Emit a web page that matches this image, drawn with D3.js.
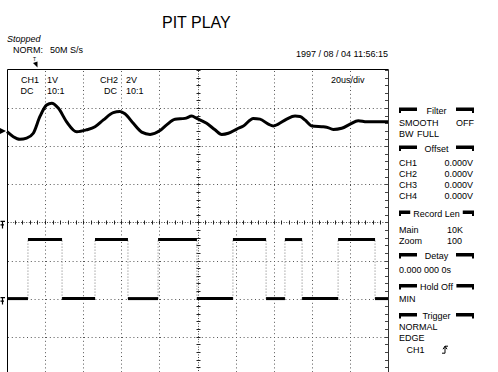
<!DOCTYPE html>
<html><head><meta charset="utf-8">
<script src="https://cdn.jsdelivr.net/npm/d3@7"></script>
<style>
html,body{margin:0;padding:0;background:#fff;}
svg{display:block;font-family:"Liberation Sans",Arial,sans-serif;}
</style></head>
<body><svg id="c" width="498" height="372"></svg>
<script>
// ---- data ----
const title = "PIT PLAY";
const status = "Stopped";
const sampling = ["NORM:", "50M S/s"];
const timestamp = "1997 / 08 / 04  11:56:15";
const timebase = "20us/div";
const chLabels = [["CH1", "1V", "DC", "10:1"], ["CH2", "2V", "DC", "10:1"]];
// CH1 analog trace: time (us) and volts (1 V/div)
const ch1Time = [0,3.3,6.8,10.3,13.8,17.3,20.8,23.5,26.9,31.3,36.6,41.8,46.2,50.6,55.8,59.3,61.9,66.3,70.7,75.1,80.3,83.8,88.2,93.4,97.0,99.6,104.8,109.2,112.7,116.2,120.6,124.1,129.3,132.8,137.2,139.8,142.4,146.8,151.2,153.8,156.4,160.0,165.2,167.8,171.3,175.7,180.1,184.4,188.8,194.1,200];
const ch1Volts = [-0.02,-0.15,-0.22,-0.19,-0.06,0.38,0.68,0.73,0.60,0.24,-0.02,0.03,0.11,0.29,0.48,0.51,0.45,0.20,-0.03,-0.09,0.01,0.16,0.31,0.33,0.39,0.33,0.20,0.03,-0.09,-0.06,0.05,0.13,0.33,0.31,0.18,0.13,0.18,0.31,0.39,0.38,0.29,0.13,0.11,0.10,0.04,0.07,0.18,0.27,0.24,0.24,0.24];
// CH2 digital trace: edge times (us) and levels (volts, 2 V/div)
const ch2Time = [0,11.0,28.9,46.2,63.5,79.3,99.7,118.6,136.0,145.9,154.9,173.8,193.2,200];
const ch2Volts = [0,3.1,0,3.1,0,3.1,0,3.1,0,3.1,0,3.1,0,0];
const ch1Ground = 2.4, ch2Ground = -2.0; // divisions
const ch1VoltsPerDiv = 1, ch2VoltsPerDiv = 2;
const menu = [
  {head:"Filter", rows:[["SMOOTH","OFF"],["BW","FULL"]]},
  {head:"Offset", rows:[["CH1","0.000V"],["CH2","0.000V"],["CH3","0.000V"],["CH4","0.000V"]]},
  {head:"Record Len", rows:[["Main","10K"],["Zoom","100"]]},
  {head:"Detay", rows:[["0.000 000 0s",""]]},
  {head:"Hold Off", rows:[["MIN",""]]},
  {head:"Trigger", rows:[["NORMAL",""],["EDGE",""],["   CH1","slope"]]}
];

// ---- drawing ----
const svg = d3.select("#c");
const x = d3.scaleLinear().domain([0,200]).range([7,388]);
const y = d3.scaleLinear().domain([4,-4]).range([70,374.8]);
const g = svg.append("g");

// grid
const xt = x.ticks(10), yt = y.ticks(8);
g.selectAll(".vg").data(xt.filter(d=>d>0&&d<200&&d!==100)).join("line")
  .attr("x1",d=>Math.round(x(d))+0.5).attr("x2",d=>Math.round(x(d))+0.5)
  .attr("y1",71).attr("y2",372).attr("stroke","#555").attr("stroke-width",1).attr("stroke-dasharray","1,2.8");
g.selectAll(".hg").data(yt.filter(d=>d>-4&&d<4&&d!==0)).join("line")
  .attr("y1",d=>Math.round(y(d))+0.5).attr("y2",d=>Math.round(y(d))+0.5)
  .attr("x1",8).attr("x2",388).attr("stroke","#555").attr("stroke-width",1).attr("stroke-dasharray","1,2.8");
// center lines with minor ticks
const cx = Math.round(x(100))+0.5, cy = Math.round(y(0))+0.5;
g.append("line").attr("x1",cx).attr("x2",cx).attr("y1",71).attr("y2",372).attr("stroke","#444").attr("stroke-dasharray","1,1.6");
g.append("line").attr("y1",cy).attr("y2",cy).attr("x1",8).attr("x2",388).attr("stroke","#444").attr("stroke-dasharray","1,1.6");
const minorX = d3.range(0,201,4), minorY = d3.range(-4,4.01,0.2);
g.selectAll(".mtx").data(minorX).join("line")
  .attr("x1",d=>Math.round(x(d))+0.5).attr("x2",d=>Math.round(x(d))+0.5)
  .attr("y1",cy-2).attr("y2",cy+2).attr("stroke","#222");
g.selectAll(".mty").data(minorY).join("line")
  .attr("y1",d=>Math.round(y(d))+0.5).attr("y2",d=>Math.round(y(d))+0.5)
  .attr("x1",cx-2).attr("x2",cx+2).attr("stroke","#222");
g.selectAll(".rty").data(minorY).join("line")
  .attr("y1",d=>Math.round(y(d))+0.5).attr("y2",d=>Math.round(y(d))+0.5)
  .attr("x1",385).attr("x2",388).attr("stroke","#444");
// frame
g.append("path").attr("d",`M7.5,372V69.5H388.5`).attr("fill","none").attr("stroke","#000").attr("stroke-width",1);
g.append("line").attr("x1",388.5).attr("x2",388.5).attr("y1",69.5).attr("y2",372).attr("stroke","#333").attr("stroke-width",1);

// CH2 trace
const ch2Y = v => y(v/ch2VoltsPerDiv + ch2Ground);
const segs = d3.range(ch2Time.length-1).map(i=>({t0:ch2Time[i],t1:ch2Time[i+1],v:ch2Volts[i]}));
g.selectAll(".e2").data(ch2Time.slice(1,-1)).join("line")
  .attr("x1",d=>x(d)).attr("x2",d=>x(d)).attr("y1",ch2Y(0)).attr("y2",ch2Y(3.1))
  .attr("stroke","#777").attr("stroke-width",1).attr("stroke-dasharray","1,2");
g.selectAll(".h2").data(segs).join("line")
  .attr("x1",d=>x(d.t0)).attr("x2",d=>x(d.t1)).attr("y1",d=>ch2Y(d.v)).attr("y2",d=>ch2Y(d.v))
  .attr("stroke","#000").attr("stroke-width",3);

// CH1 trace
const ch1 = ch1Time.map((t,i)=>[t,ch1Volts[i]]);
g.append("path").datum(ch1)
  .attr("d",d3.line().x(d=>x(d[0])).y(d=>y(d[1]/ch1VoltsPerDiv+ch1Ground)).curve(d3.curveMonotoneX))
  .attr("fill","none").attr("stroke","#000").attr("stroke-width",3).attr("stroke-linejoin","round");

// left markers
const g1 = y(ch1Ground), g2 = y(ch2Ground), tl = y(0);
g.append("path").attr("d",`M0,${g1-3}L6,${g1}L0,${g1+3}Z`).attr("fill","#000");
[tl+1, g2+1].forEach(yy=>{
  g.append("path").attr("d",`M0.5,${yy-2}H5M2.5,${yy-2}V${yy+5}M0.5,${yy+1.5}H4`).attr("fill","none").attr("stroke","#000").attr("stroke-width",1.2);
});

// trigger position marker
g.append("text").attr("x",34.5).attr("y",61).attr("text-anchor","middle").attr("font-size",5).text("T");
g.append("path").attr("d","M33,63L37.5,67.5V61.5Z").attr("fill","#000");

// header texts
svg.append("text").attr("x",162).attr("y",28).attr("font-size",16).text(title);
svg.append("text").attr("x",7).attr("y",41.5).attr("font-size",9).attr("font-style","italic").text(status);
svg.append("text").attr("x",13).attr("y",52.5).attr("font-size",9).text(sampling[0]);
svg.append("text").attr("x",50).attr("y",52.5).attr("font-size",9).text(sampling[1]);
svg.append("text").attr("x",388).attr("y",57).attr("text-anchor","end").attr("font-size",9).text(timestamp);
svg.append("text").attr("x",331).attr("y",83).attr("font-size",9).text(timebase);
const chX = [[21,47,33.5,47],[100,126,117,126]];
chLabels.forEach((c,i)=>{
  svg.append("text").attr("x",chX[i][0]).attr("y",82.5).attr("font-size",9).text(c[0]);
  svg.append("text").attr("x",chX[i][1]).attr("y",82.5).attr("font-size",9).text(c[1]);
  svg.append("text").attr("x",chX[i][2]).attr("y",93.5).attr("font-size",9).attr("text-anchor","end").text(c[2]);
  svg.append("text").attr("x",chX[i][3]).attr("y",93.5).attr("font-size",9).text(c[3]);
});

// right menu (layout)
const headCenters = [110.5, 148.5, 213.5, 256, 287, 316];
const firstGap = [12, 14.5, 16.5, 14, 12, 11];
const P = svg.append("g");
menu.forEach((m,mi)=>{
  const cyM = headCenters[mi];
  const t = P.append("text").attr("x",436.5).attr("y",cyM+3.2).attr("text-anchor","middle").attr("font-size",9).text(m.head);
  const bb = t.node().getBBox();
  const lEnd = Math.min(417, bb.x-3), rStart = Math.max(456, bb.x+bb.width+3);
  P.append("path").attr("d",`M399,${cyM-3}H${lEnd}V${cyM+0.5}H401V${cyM+2.5}H399Z`).attr("fill","#000");
  P.append("path").attr("d",`M${rStart},${cyM-3}H474V${cyM+2.5}H472V${cyM+0.5}H${rStart}Z`).attr("fill","#000");
  let by = cyM + firstGap[mi] + 3.2;
  m.rows.forEach((r,ri)=>{
    P.append("text").attr("x",399).attr("y",by).attr("font-size",9).style("white-space","pre").text(r[0]);
    if (r[1]==="slope") {
      const sx=442, sy=by;
      P.append("path").attr("d",`M${sx},${sy}H${sx+3}V${sy-7}H${sx+6}M${sx+1},${sy-4}L${sx+3},${sy-7}L${sx+5},${sy-4}`).attr("fill","none").attr("stroke","#000").attr("stroke-width",1);
    } else if (r[1]) {
      const isOff = mi===1;
      const xx = isOff ? 473 : (r[0]==="BW" ? 417 : (r[0]==="SMOOTH" ? 456 : 447));
      P.append("text").attr("x",xx).attr("y",by).attr("font-size",9).attr("text-anchor",isOff?"end":"start").text(r[1]);
    }
    by += (mi===5 && ri===1) ? 12 : 11;
  });
});
</script></body></html>
